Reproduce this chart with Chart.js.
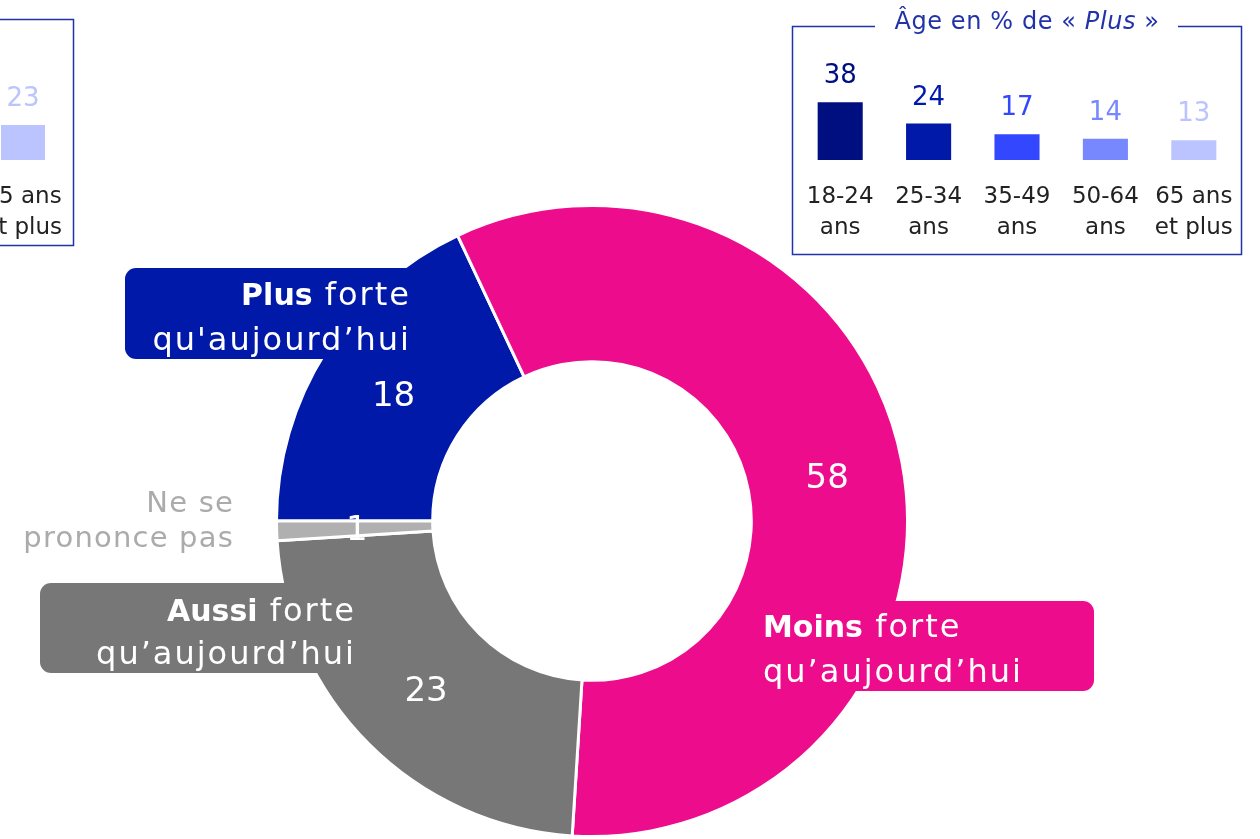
<!DOCTYPE html>
<html lang="fr">
<head>
<meta charset="UTF-8">
<title>Plus forte, moins forte qu'aujourd'hui</title>
<script src="https://cdn.jsdelivr.net/npm/chart.js"></script>
<style>
  body { margin: 0; background: #fff; width: 1260px; height: 839px; overflow: hidden; position: relative; }
  canvas { position: absolute; }
</style>
</head>
<body>
<canvas id="donut" width="1260" height="839" style="left:0;top:0"></canvas>
<canvas id="agePlus" width="480" height="260" style="left:780px;top:0"></canvas>
<canvas id="ageLeft" width="180" height="260" style="left:-100px;top:0"></canvas>

<script>
// main question
const answers = ['Plus', 'Moins', 'Aussi', 'Ne se prononce pas'];
const shares = [18, 58, 23, 1];
const sliceColors = ['#0019A8', '#EC0C8C', '#777777', '#B0B0B0'];

// age breakdown of "Plus"
const ageGroups = [['18-24', 'ans'], ['25-34', 'ans'], ['35-49', 'ans'], ['50-64', 'ans'], ['65 ans', 'et plus']];
const agePlus = [38, 24, 17, 14, 13];
const ageColors = ['#000F80', '#0019A8', '#3347FF', '#7788FF', '#BBC4FF'];

// panel cut by the left edge, only its last column shows
const leftGroups = [['65 ans', 'et plus']];
const leftValues = [23];
const leftColors = ['#BBC4FF'];

const FONT = '"DejaVu Sans", sans-serif';
const BOX_BLUE = '#2233AA';

// draws runs of text [{t, b, i}] starting at x (align left) or ending at x (align right)
// bold runs are drawn a bit smaller, regular runs get some letter spacing (the original face is wider)
function drawRuns(ctx, runs, x, y, size, color, align, ls) {
  const fontOf = r => (r.i ? 'italic ' : '') + (r.b ? 'bold ' : '') + (r.b ? size - 2 : size) + 'px ' + FONT;
  const spacing = r => (r.b ? 0 : (ls || 0)) + 'px';
  let total = 0;
  runs.forEach(r => {
    ctx.font = fontOf(r);
    ctx.letterSpacing = spacing(r);
    total += ctx.measureText(r.t).width;
  });
  let cx = align === 'right' ? x - total : (align === 'center' ? x - total / 2 : x);
  ctx.fillStyle = color;
  ctx.textAlign = 'left';
  ctx.textBaseline = 'alphabetic';
  runs.forEach(r => {
    ctx.font = fontOf(r);
    ctx.letterSpacing = spacing(r);
    ctx.fillText(r.t, cx, y);
    cx += ctx.measureText(r.t).width;
  });
  ctx.letterSpacing = '0px';
}

const callouts = [
  { box: [125, 268, 300, 91], color: sliceColors[0], align: 'right', x: 411, y: [305, 350],
    lines: [[{ t: 'Plus', b: true }, { t: ' forte' }], [{ t: 'qu\'aujourd\u2019hui' }]] },
  { box: [745, 601, 349, 90], color: sliceColors[1], align: 'left', x: 763, y: [637, 682],
    lines: [[{ t: 'Moins', b: true }, { t: ' forte' }], [{ t: 'qu\u2019aujourd\u2019hui' }]] },
  { box: [40, 583, 380, 90], color: sliceColors[2], align: 'right', x: 356, y: [621, 664],
    lines: [[{ t: 'Aussi', b: true }, { t: ' forte' }], [{ t: 'qu\u2019aujourd\u2019hui' }]] },
];

const donutDecor = {
  id: 'donutDecor',
  afterDatasetsDraw(chart) {
    const ctx = chart.ctx;
    ctx.save();
    callouts.forEach(c => {
      ctx.fillStyle = c.color;
      ctx.beginPath();
      ctx.roundRect(c.box[0], c.box[1], c.box[2], c.box[3], 11);
      ctx.fill();
    });
    callouts.forEach(c => {
      c.lines.forEach((runs, k) => drawRuns(ctx, runs, c.x, c.y[k], 32, '#fff', c.align, 2));
    });
    drawRuns(ctx, [{ t: 'Ne se' }], 234, 512, 29, '#ABABAB', 'right', 1.2);
    drawRuns(ctx, [{ t: 'prononce pas' }], 234, 547, 29, '#ABABAB', 'right', 1.2);

    const meta = chart.getDatasetMeta(0);
    ctx.font = '34px ' + FONT;
    ctx.fillStyle = '#fff';
    ctx.textAlign = 'center';
    ctx.textBaseline = 'middle';
    meta.data.forEach((arc, i) => {
      const p = arc.tooltipPosition();
      ctx.fillText(String(shares[i]), p.x + 2, p.y + 3);
    });
    ctx.restore();
  }
};

new Chart(document.getElementById('donut'), {
  type: 'doughnut',
  data: {
    labels: answers,
    datasets: [{
      data: shares,
      backgroundColor: sliceColors,
      borderColor: '#fff',
      borderWidth: 3
    }]
  },
  options: {
    responsive: false,
    animation: false,
    rotation: -90,
    cutout: '50.5%',
    layout: { padding: { left: 275, right: 351, top: 204, bottom: 1 } },
    plugins: { legend: { display: false }, tooltip: { enabled: false } }
  },
  plugins: [donutDecor]
});

function agePanel(id, labels, values, colors, opts) {
  const decor = {
    id: 'panelDecor',
    afterDatasetsDraw(chart) {
      const ctx = chart.ctx;
      ctx.save();
      // frame
      const [l, t, r, b] = opts.frame;
      ctx.strokeStyle = BOX_BLUE;
      ctx.lineWidth = 1.5;
      ctx.beginPath();
      if (opts.gap) {
        ctx.moveTo(opts.gap[1], t); ctx.lineTo(r, t);
      } else {
        ctx.moveTo(l, t); ctx.lineTo(r, t);
      }
      ctx.lineTo(r, b); ctx.lineTo(l, b);
      if (opts.gap) { ctx.lineTo(l, t); ctx.lineTo(opts.gap[0], t); }
      ctx.stroke();
      if (opts.title) {
        drawRuns(ctx, opts.title, opts.titleX, 29, 24, BOX_BLUE, 'center', 0.6);
      }
      const meta = chart.getDatasetMeta(0);
      meta.data.forEach((bar, i) => {
        drawRuns(ctx, [{ t: String(values[i]) }], bar.x, bar.y - 19, 26, colors[i], 'center');
        drawRuns(ctx, [{ t: labels[i][0] }], bar.x, 203, 23, '#222', 'center');
        drawRuns(ctx, [{ t: labels[i][1] }], bar.x, 234, 23, '#222', 'center');
      });
      ctx.restore();
    }
  };
  new Chart(document.getElementById(id), {
    type: 'bar',
    data: {
      labels: labels.map(x => x.join(' ')),
      datasets: [{
        data: values,
        backgroundColor: colors,
        barPercentage: opts.barPct,
        categoryPercentage: 1
      }]
    },
    options: {
      responsive: false,
      animation: false,
      layout: { padding: opts.padding },
      scales: {
        x: { display: false },
        y: { display: false, min: 0, max: 50 }
      },
      plugins: { legend: { display: false }, tooltip: { enabled: false } }
    },
    plugins: [decor]
  });
}

agePanel('agePlus', ageGroups, agePlus, ageColors, {
  padding: { left: 16, right: 22, top: 84, bottom: 100 },
  barPct: 0.51,
  frame: [12.5, 26.5, 461.5, 254.5],
  gap: [95, 398],
  title: [{ t: '\u00C2ge en % de \u00AB ' }, { t: 'Plus', i: true }, { t: ' \u00BB' }],
  titleX: 247
});

agePanel('ageLeft', leftGroups, leftValues, leftColors, {
  padding: { left: 79, right: 13, top: 84, bottom: 100 },
  barPct: 0.5,
  frame: [-10, 19.5, 173.5, 245.5]
});
</script>
</body>
</html>
